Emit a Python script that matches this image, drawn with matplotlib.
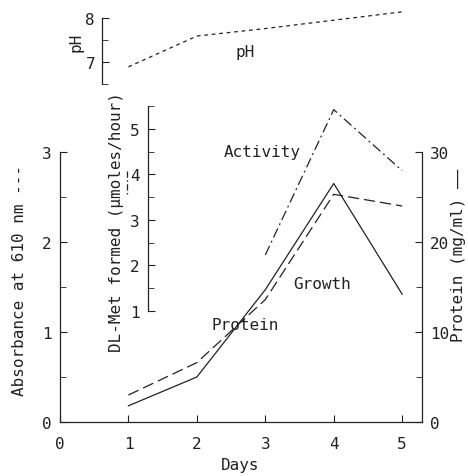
import matplotlib
matplotlib.use("Agg")
import matplotlib.pyplot as plt
from matplotlib.lines import Line2D
from matplotlib.ticker import MultipleLocator, FixedLocator

# ---- data ----
days = [1, 2, 3, 4, 5]
absorbance = [0.30, 0.66, 1.36, 2.53, 2.40]      # Growth (left axis)
protein = [1.8, 5.0, 14.7, 26.5, 14.2]           # Protein mg/ml (right axis)
activity_days = [3, 4, 5]
activity = [2.23, 5.42, 4.08]                    # DL-Met formed (umoles/hour)
ph = [6.89, 7.59, 7.76, 7.95, 8.14]              # pH

x_ticks = [0, 1, 2, 3, 4, 5]
abs_ticks = [0, 1, 2, 3]
prot_ticks = [0, 10, 20, 30]
act_ticks = [1, 2, 3, 4, 5]
ph_ticks = [7, 8]

FONT = "DejaVu Sans Mono"
plt.rcParams['font.family'] = FONT

W, H = 468, 477
fig = plt.figure(figsize=(W / 100, H / 100), dpi=100)

def fx(px):
    return px / W

def fy(py):
    return 1 - py / H

X0, X1 = 60, 422
XLIM = (0, 5.29)
LW = 0.9
FS = 11.5
TS = 11.5
C = '#222222'

# main axes
ax = fig.add_axes([fx(X0), fy(423), fx(X1 - X0), (423 - 153) / H])
ax.set_xlim(*XLIM)
ax.set_ylim(0, 3)
ax.patch.set_alpha(0)
ax.spines['top'].set_visible(False)
ax.spines['right'].set_visible(False)
ax.plot(days, absorbance, color=C, lw=LW, dashes=(9, 4))
ax.xaxis.set_major_locator(FixedLocator(x_ticks))
ax.set_xticklabels([str(t) for t in x_ticks])
ax.yaxis.set_major_locator(FixedLocator(abs_ticks))
ax.yaxis.set_minor_locator(MultipleLocator(0.5))
ax.tick_params(axis='both', which='both', direction='in', labelsize=TS, colors=C)
ax.tick_params(axis='y', which='major', length=5, pad=6)
ax.tick_params(axis='y', which='minor', length=4)
ax.tick_params(axis='x', which='major', length=5, pad=10)
for s in ax.spines.values():
    s.set_linewidth(LW)
    s.set_color(C)

# right axis (protein)
ax2 = ax.twinx()
ax2.set_ylim(0, 30)
ax2.set_xlim(*XLIM)
for k in ['top', 'left', 'bottom']:
    ax2.spines[k].set_visible(False)
ax2.spines['right'].set_linewidth(LW)
ax2.spines['right'].set_color(C)
ax2.plot(days, protein, color=C, lw=LW)
ax2.yaxis.set_major_locator(FixedLocator(prot_ticks))
ax2.yaxis.set_minor_locator(MultipleLocator(5))
ax2.tick_params(axis='y', which='both', direction='in', labelsize=TS, colors=C)
ax2.tick_params(axis='y', which='major', length=5, pad=6)
ax2.tick_params(axis='y', which='minor', length=4)

# activity axes
ax3 = fig.add_axes([fx(X0), fy(312), fx(X1 - X0), (312 - 107) / H])
ax3.set_xlim(*XLIM)
ax3.set_ylim(1, 5.5)
ax3.patch.set_alpha(0)
for k in ['top', 'right', 'bottom']:
    ax3.spines[k].set_visible(False)
ax3.spines['left'].set_position(('axes', (148 - X0) / (X1 - X0)))
ax3.spines['left'].set_linewidth(LW)
ax3.spines['left'].set_color(C)
ax3.set_xticks([])
ax3.yaxis.set_major_locator(FixedLocator(act_ticks))
ax3.yaxis.set_minor_locator(FixedLocator([1.5, 2.5, 3.5, 4.5, 5.5]))
ax3.tick_params(axis='y', which='both', direction='in', labelsize=TS, colors=C)
ax3.tick_params(axis='y', which='major', length=5, pad=6)
ax3.tick_params(axis='y', which='minor', length=4)
ax3.plot(activity_days, activity, color=C, lw=LW, dashes=(8, 3, 1.5, 3),
         clip_on=False)

# pH axes
ax4 = fig.add_axes([fx(X0), fy(85), fx(X1 - X0), (85 - 19) / H])
ax4.set_xlim(*XLIM)
ax4.set_ylim(6.5, 8)
ax4.patch.set_alpha(0)
for k in ['top', 'right', 'bottom']:
    ax4.spines[k].set_visible(False)
ax4.spines['left'].set_position(('axes', (102 - X0) / (X1 - X0)))
ax4.spines['left'].set_linewidth(LW)
ax4.spines['left'].set_color(C)
ax4.set_xticks([])
ax4.yaxis.set_major_locator(FixedLocator(ph_ticks))
ax4.yaxis.set_minor_locator(FixedLocator([6.5, 7.5]))
ax4.tick_params(axis='y', which='both', direction='in', labelsize=TS, colors=C)
ax4.tick_params(axis='y', which='major', length=5, pad=5)
ax4.tick_params(axis='y', which='minor', length=4)
ax4.plot(days, ph, color=C, lw=LW, dashes=(3, 3), clip_on=False)

# annotations
txt = dict(fontsize=FS, color=C, ha='center', va='center')
fig.text(fx(262), fy(152), "Activity", **txt)
fig.text(fx(245), fy(325), "Protein", **txt)
fig.text(fx(322), fy(285), "Growth", **txt)
fig.text(fx(245), fy(52), "pH", **txt)
fig.text(fx(240), fy(466), "Days", **txt)

# axis labels
fig.text(fx(20), fy(280), "Absorbance at 610 nm ---", rotation=90, **txt)
fig.text(fx(117), fy(222), "DL-Met formed (\u03bcmoles/hour)", rotation=90, **txt)
fig.text(fx(458), fy(255), "Protein (mg/ml) \u2014\u2014", rotation=90, **txt)
fig.text(fx(76), fy(42), "pH", rotation=90, **txt)

# dash-dot key under the activity label
fig.add_artist(Line2D([fx(127), fx(127)], [fy(172), fy(196)], color=C, lw=LW,
                      dashes=(5, 2, 1.2, 2), transform=fig.transFigure))

fig.savefig("out.png", dpi=100)
